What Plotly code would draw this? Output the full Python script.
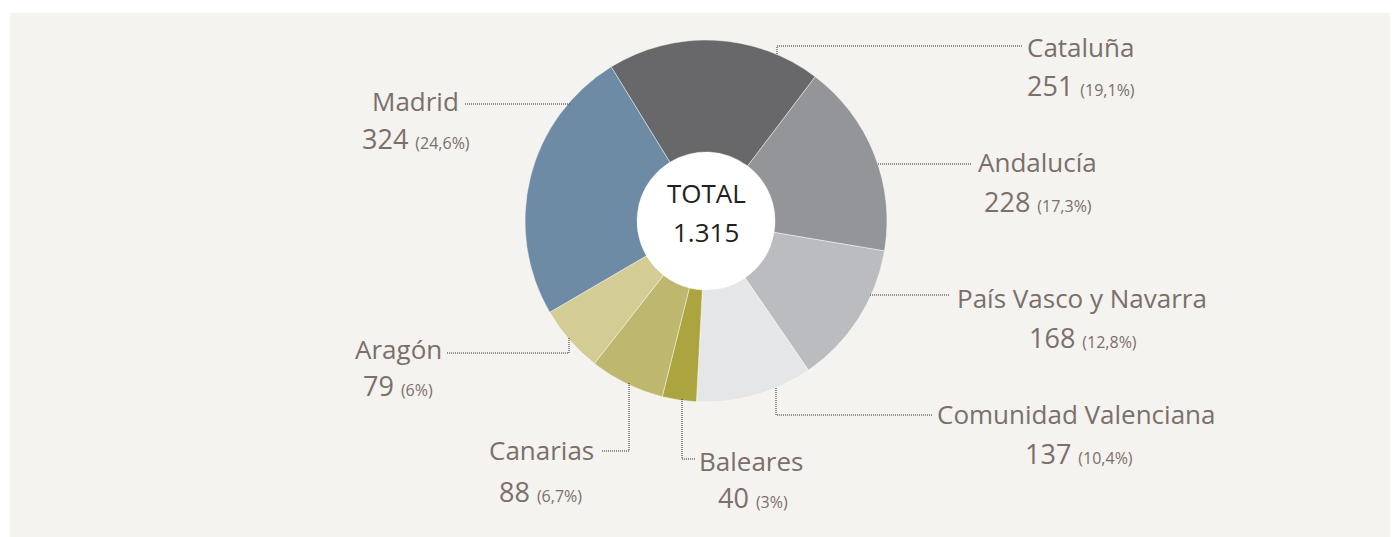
import plotly.graph_objects as go

# ---- data ----
regions = ["Cataluña", "Andalucía", "País Vasco y Navarra", "Comunidad Valenciana",
           "Baleares", "Canarias", "Aragón", "Madrid"]
values = [251, 228, 168, 137, 40, 88, 79, 324]
colors = ["#68686a", "#949599", "#bbbcbf", "#e5e6e8",
          "#aba43f", "#bdb86d", "#d4cc95", "#6e8ba5"]
total_label = "1.315"

W, H = 1396, 537
total = sum(values)


def px(x):
    return x / W


def py(y):
    return 1 - y / H


def pct(v):
    s = f"{100 * v / total:.1f}".replace(".", ",")
    if s.endswith(",0"):
        s = s[:-2]
    return s + "%"


TXT = "#7a6f6a"
FONT = "Open Sans"

# pie geometry (pixels)
cx, cy, R, r_hole = 706, 221, 181, 69

fig = go.Figure()
fig.add_trace(go.Pie(
    labels=regions, values=values, sort=False, direction="clockwise",
    rotation=-31.6, hole=r_hole / R,
    marker=dict(colors=colors, line=dict(color="rgba(255,255,255,0.55)", width=0.8)),
    textinfo="none", showlegend=False,
    domain=dict(x=[px(cx - R), px(cx + R)], y=[py(cy + R), py(cy - R)]),
))

shapes = [
    dict(type="rect", xref="paper", yref="paper", x0=px(10), x1=px(1390), y0=py(537), y1=py(13),
         fillcolor="#f5f3ef", line=dict(width=0), layer="below"),
    dict(type="circle", xref="paper", yref="paper", x0=px(cx - r_hole), x1=px(cx + r_hole),
         y0=py(cy + r_hole), y1=py(cy - r_hole), fillcolor="white", line=dict(width=0), layer="below"),
]

# label layout: name position/anchor, value position, leader polyline
layout_info = {
    "Madrid": dict(name=(461, 101, "right"), val=(416, 138), line=[(570, 104), (464, 104)]),
    "Cataluña": dict(name=(1025, 47, "left"), val=(1081, 86), line=[(777, 54), (777, 46), (1022, 46)]),
    "Andalucía": dict(name=(976, 162, "left"), val=(1038, 202), line=[(878, 164), (972, 164)]),
    "País Vasco y Navarra": dict(name=(955, 298, "left"), val=(1083, 337), line=[(870, 295), (950, 295)]),
    "Comunidad Valenciana": dict(name=(935, 414, "left"), val=(1079, 453), line=[(776, 388), (776, 415), (932, 415)]),
    "Baleares": dict(name=(697, 461, "left"), val=(753, 497), line=[(682, 399), (682, 459), (695, 459)]),
    "Canarias": dict(name=(596, 450, "right"), val=(540, 491), line=[(629, 383), (629, 451), (602, 451)]),
    "Aragón": dict(name=(444, 349, "right"), val=(398, 385), line=[(569, 338), (569, 353), (447, 353)]),
}

annotations = []
for reg, v in zip(regions, values):
    info = layout_info[reg]
    nx, ny, anc = info["name"]
    annotations.append(dict(x=px(nx), y=py(ny), xref="paper", yref="paper", text=reg,
                            xanchor=anc, yanchor="middle", showarrow=False,
                            font=dict(family=FONT, size=26, color=TXT)))
    vx, vy = info["val"]
    annotations.append(dict(x=px(vx), y=py(vy), xref="paper", yref="paper",
                            text=f"{v} <span style='font-size:16px'>({pct(v)})</span>",
                            xanchor="center", yanchor="middle", showarrow=False,
                            font=dict(family=FONT, size=27, color=TXT)))
    pts = info["line"]
    path = "M " + " L ".join(f"{px(x)},{py(y)}" for x, y in pts)
    shapes.append(dict(type="path", xref="paper", yref="paper", path=path,
                       line=dict(color="#2a2a2a", width=1, dash="1px,1px"), layer="above"))

annotations.append(dict(x=px(cx), y=py(193), xref="paper", yref="paper", text="TOTAL",
                        showarrow=False, xanchor="center", yanchor="middle",
                        font=dict(family=FONT, size=26, color="#231f20")))
annotations.append(dict(x=px(cx), y=py(232), xref="paper", yref="paper", text=total_label,
                        showarrow=False, xanchor="center", yanchor="middle",
                        font=dict(family=FONT, size=26, color="#231f20")))

fig.update_layout(
    width=W, height=H, margin=dict(l=0, r=0, t=0, b=0),
    paper_bgcolor="white", plot_bgcolor="white",
    shapes=shapes, annotations=annotations,
)

fig.write_html("out.html", config={"displayModeBar": False},
               post_script="document.body.style.margin='0';")
